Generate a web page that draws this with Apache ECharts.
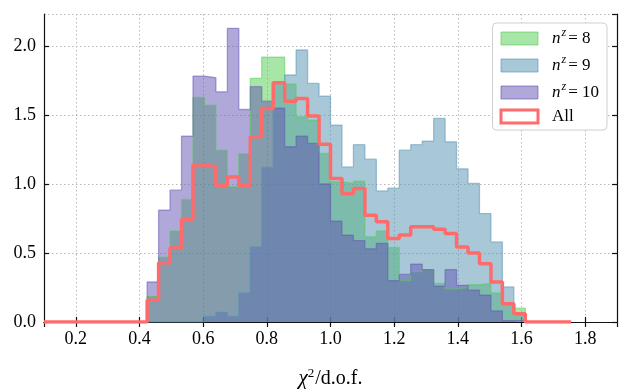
<!DOCTYPE html>
<html><head><meta charset="utf-8">
<script src="https://cdn.jsdelivr.net/npm/echarts@6/dist/echarts.min.js"></script>
<style>html,body{margin:0;padding:0;background:#fff}#c{width:631px;height:390px}</style>
</head><body><div id="c"></div>
<script>
// Histogram bins: width 0.036 starting at 0.1 (bin k covers 0.1+k*w .. 0.1+(k+1)*w)
const binStart = 0.1;
const binWidth = 0.036;
const firstBin = 9;           // first non-empty bin of the coloured histograms
// n^z = 8 (bins 9..41)
const nz8 = [0.186,0.47,0.66,0.888,1.628,1.572,1.245,0.98,1.22,1.766,1.92,1.92,1.724,1.487,1.463,1.221,1.016,1.004,1.02,0.617,0.66,0.54,0.30,0.365,0.38,0.28,0.24,0.25,0.27,0.28,0.21,0.14,0.10];
// n^z = 9
const nz9 = [0,0,0,0,0,0.04,0.07,0.04,0.21,0.544,1.12,1.73,1.79,1.971,1.729,1.637,1.427,1.124,1.285,1.18,0.95,0.97,1.245,1.285,1.31,1.475,1.306,1.11,1.004,0.786,0.58,0.254,0.065];
// n^z = 10
const nz10 = [0.29,0.81,0.955,1.347,1.782,1.77,1.668,2.128,1.54,1.705,1.6,1.55,1.27,1.347,1.294,1.0,0.73,0.63,0.59,0.53,0.57,0.30,0.345,0.42,0.38,0.26,0.38,0.266,0.23,0.195,0.08,0.01,0.01];
// All (bins 0..45)
const allVals = [0,0,0,0,0,0,0,0,0,0.157,0.43,0.536,0.743,1.137,1.125,0.99,1.05,0.99,1.342,1.548,1.734,1.6,1.62,1.492,1.289,1.04,0.93,0.967,0.774,0.726,0.605,0.63,0.69,0.69,0.672,0.641,0.544,0.5,0.423,0.29,0.133,0.06,0,0,0,0];
const xTicks = [0.2,0.4,0.6,0.8,1.0,1.2,1.4,1.6,1.8];
const yTicks = [0.0,0.5,1.0,1.5,2.0];
const labels = {n8:'8', n9:'9', n10:'10'};

function edge(k){ return +(binStart + k*binWidth).toFixed(4); }
function stepData(vals, k0){
  const d = [[edge(k0), 0]];
  vals.forEach((v,i)=>d.push([edge(k0+i), v]));
  d.push([edge(k0+vals.length), 0]);
  return d;
}
const serif = "'Liberation Serif','DejaVu Serif',serif";
const cols = {n8:'#51cd51', n9:'#5191b1', n10:'#6151b1', All:'#ff6a6a'};
function hist(name, vals){
  return {name, type:'line', step:'end', data: stepData(vals, firstBin), showSymbol:false, symbol:'none',
    lineStyle:{color:cols[name], width:1.3, opacity:0.5}, itemStyle:{color:cols[name]},
    areaStyle:{color:cols[name], opacity:0.5, origin:0}, animation:false};
}
const chart = echarts.init(document.getElementById('c'), null, {renderer:'canvas'});
const axisCommon = {axisLine:{show:true, lineStyle:{color:'#111', width:1.2}}, axisTick:{show:true, inside:true, length:5, lineStyle:{color:'#111', width:1.2}}};
const lf = 17;
chart.setOption({
  backgroundColor:'#fff',
  animation:false,
  grid:{left:44, right:14, top:14, bottom:68, containLabel:false, outerBoundsMode:'none'},
  legend:{
    data:[
      {name:'n8', icon:'rect', itemStyle:{color:'rgba(81,205,81,0.5)', borderColor:'rgba(81,205,81,0.6)', borderWidth:1}},
      {name:'n9', icon:'rect', itemStyle:{color:'rgba(81,145,177,0.5)', borderColor:'rgba(81,145,177,0.6)', borderWidth:1}},
      {name:'n10', icon:'rect', itemStyle:{color:'rgba(97,81,177,0.5)', borderColor:'rgba(97,81,177,0.6)', borderWidth:1}},
      {name:'All', icon:'rect', itemStyle:{color:'rgba(255,255,255,0)', borderColor:'#ff6a6a', borderWidth:3}}
    ],
    orient:'vertical', right:24, top:23, itemWidth:37, itemHeight:13, itemGap:7,
    padding:[4,8,5,7], borderColor:'#d0d0d0', borderWidth:1, borderRadius:4, backgroundColor:'#fff',
    lineStyle:{width:0},
    formatter: n => n==='All' ? '{g|}{r|All}' : '{g|}{i|n}{s|z}{r|= '+labels[n]+'}',
    textStyle:{fontFamily:serif, fontSize:lf, color:'#000',
      rich:{g:{width:9}, i:{fontFamily:serif, fontStyle:'italic', fontSize:lf, lineHeight:14}, s:{fontFamily:serif, fontStyle:'italic', fontSize:12, lineHeight:14, verticalAlign:'bottom', padding:[0,2,8,1]}, r:{fontFamily:serif, fontSize:lf, lineHeight:14}}}
  },
  xAxis:[
    Object.assign({type:'value', min:0.1, max:1.9, splitNumber:9, position:'bottom',
      axisLabel:{showMinLabel:false, showMaxLabel:false, fontFamily:serif, fontSize:18, color:'#000', margin:8,
        formatter: v => xTicks.some(t=>Math.abs(t-v)<1e-6) ? v.toFixed(1) : ''},
      splitLine:{show:true, lineStyle:{type:[1.5,2.5], color:'#b8b8b8', width:1}},
      name:'{i|χ}{s|2}{r|/d.o.f.}', nameLocation:'middle', nameGap:45,
      nameTextStyle:{fontFamily:serif, fontSize:20, color:'#000', rich:{i:{fontFamily:serif, fontStyle:'italic', fontSize:21}, s:{fontFamily:serif, fontSize:13, verticalAlign:'bottom', padding:[0,1,10,0]}, r:{fontFamily:serif, fontSize:20}}}
    }, axisCommon),
    Object.assign({type:'value', min:0.1, max:1.9, splitNumber:9, position:'top', axisLabel:{show:false}, splitLine:{show:false}}, axisCommon)
  ],
  yAxis:[
    Object.assign({type:'value', min:0, max:2.232, interval:0.5, position:'left',
      axisLabel:{showMaxLabel:false, fontFamily:serif, fontSize:18, color:'#000', margin:8,
        formatter: v => yTicks.some(t=>Math.abs(t-v)<1e-6) ? v.toFixed(1) : ''},
      splitLine:{show:true, lineStyle:{type:[1.5,2.5], color:'#b8b8b8', width:1}}}, axisCommon),
    Object.assign({type:'value', min:0, max:2.232, interval:0.5, position:'right', axisLabel:{show:false}, splitLine:{show:false}}, axisCommon)
  ],
  series:[
    hist('n8', nz8),
    hist('n9', nz9),
    hist('n10', nz10),
    {name:'All', type:'line', step:'end', data: (()=>{const d=allVals.map((v,k)=>[edge(k),v]); d.push([edge(allVals.length),0]); return d;})(),
      showSymbol:false, symbol:'none', lineStyle:{color:'#ff6a6a', width:3.5}, itemStyle:{color:'#ff6a6a'}, z:5, animation:false}
  ]
});
</script></body></html>
